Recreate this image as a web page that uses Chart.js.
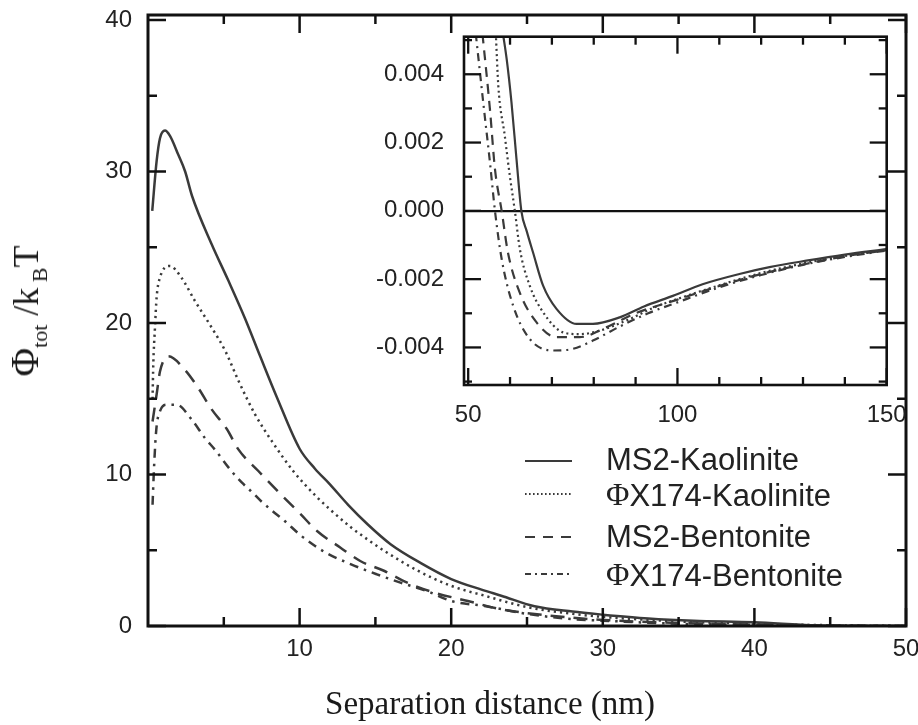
<!DOCTYPE html>
<html>
<head>
<meta charset="utf-8">
<script src="https://cdn.jsdelivr.net/npm/chart.js@4.4.1/dist/chart.umd.min.js"></script>
<style>
  html, body { margin: 0; padding: 0; background: #ffffff; }
  #wrap { position: relative; width: 918px; height: 725px; overflow: hidden; background: #fff; }
  #mainCanvas { position: absolute; left: 0; top: 0; }
  #insetCanvas { position: absolute; left: 370px; top: 20px; }
  .ytitle { position: absolute; left: 28px; top: 311px; transform: translate(-50%, -50%) rotate(-90deg);
            white-space: nowrap; font-family: "Liberation Serif", "DejaVu Serif", serif; font-size: 36px; color: #1a1a1a; line-height: 1; }
  .ytitle .phi { font-size: 39px; }
  .ytitle sub { font-size: 22px; vertical-align: -9px; }
  .xtitle { position: absolute; left: 490px; top: 703px; transform: translate(-50%, -50%);
            white-space: nowrap; font-family: "Liberation Serif", "DejaVu Serif", serif; font-size: 33px; color: #1a1a1a; line-height: 1; }
</style>
</head>
<body>
<div id="wrap">
  <canvas id="mainCanvas" width="918" height="725"></canvas>
  <canvas id="insetCanvas" width="540" height="420"></canvas>
  <div class="ytitle"><span class="phi">Φ</span><sub>tot</sub> /k<sub> B</sub>T</div>
  <div class="xtitle">Separation distance (nm)</div>
</div>
<script>
// ---------------- DATA ----------------
const seriesLabels = ['MS2-Kaolinite', 'ΦX174-Kaolinite', 'MS2-Bentonite', 'ΦX174-Bentonite'];

// Main panel (separation distance in nm, Φtot/kBT)
const ms2KaoX = [0.28, 0.57, 0.79, 1.12, 1.45, 2.0, 2.45, 2.9, 4.2, 5.3, 6.4, 7.4, 8.5, 10.0, 11.0, 12.0, 13.2, 14.5, 16.0, 18.0, 20.0, 22.0, 23.3, 25.5, 28.0, 30.0, 33.0, 36.0, 40.0, 44.0, 47.0, 50.0];
const ms2KaoY = [27.4, 30.7, 32.2, 32.7, 32.35, 31.1, 30.0, 28.4, 25.2, 22.8, 20.3, 17.8, 15.1, 11.7, 10.4, 9.35, 8.0, 6.7, 5.4, 4.15, 3.1, 2.4, 2.0, 1.3, 0.95, 0.75, 0.5, 0.35, 0.25, 0.05, 0.02, 0.0];

const phiKaoX = [0.3, 0.35, 0.46, 0.57, 0.79, 1.45, 2.2, 3.1, 4.2, 5.1, 5.96, 7.06, 8.17, 9.6, 11.15, 12.0, 13.4, 14.5, 15.6, 17.8, 20.0, 22.2, 25.0, 28.0, 30.0, 35.0, 40.0, 45.0, 50.0];
const phiKaoY = [15.0, 17.3, 19.7, 21.7, 23.0, 23.76, 23.0, 21.45, 19.7, 18.15, 16.2, 13.97, 12.2, 10.2, 8.5, 7.7, 6.5, 5.7, 4.95, 3.65, 2.65, 2.0, 1.25, 0.8, 0.6, 0.3, 0.15, 0.05, 0.0];

const ms2BenX = [0.3, 0.57, 0.79, 1.34, 2.44, 3.32, 4.2, 5.2, 5.96, 7.28, 8.7, 10.05, 11.15, 12.7, 14.0, 15.6, 17.1, 18.9, 21.1, 23.3, 25.0, 28.0, 30.0, 35.0, 40.0, 45.0, 50.0];
const ms2BenY = [13.5, 15.3, 16.8, 17.8, 16.9, 15.7, 14.3, 13.0, 11.66, 10.23, 8.75, 7.4, 6.27, 5.17, 4.29, 3.63, 2.86, 2.2, 1.65, 1.1, 0.85, 0.55, 0.4, 0.2, 0.1, 0.03, 0.0];

const phiBenX = [0.3, 0.4, 0.55, 0.8, 1.23, 1.9, 2.9, 3.76, 4.4, 5.5, 6.2, 6.85, 7.5, 8.2, 9.0, 10.05, 11.0, 11.8, 13.4, 15.1, 16.65, 18.4, 20.0, 22.2, 25.0, 28.0, 30.0, 35.0, 40.0, 45.0, 50.0];
const phiBenY = [8.0, 10.5, 13.0, 14.2, 14.6, 14.6, 13.6, 12.4, 11.66, 10.23, 9.46, 8.85, 8.2, 7.6, 6.95, 6.0, 5.3, 4.8, 4.07, 3.41, 2.86, 2.31, 1.65, 1.32, 0.8, 0.45, 0.35, 0.15, 0.08, 0.02, 0.0];

// Inset panel (separation distance 50–150 nm)
const insMs2KaoX = [58.3, 59.2, 60.35, 61.55, 62.7, 64.0, 65.5, 67.9, 71.1, 75.9, 79.8, 86.2, 92.0, 98.9, 106.0, 114.8, 122.0, 130.8, 140.0, 150.0];
const insMs2KaoY = [0.0052, 0.00444, 0.00317, 0.00151, 0.0, -0.0006, -0.00122, -0.00219, -0.00287, -0.00331, -0.00331, -0.00312, -0.0028, -0.00249, -0.00215, -0.00185, -0.00165, -0.00146, -0.00128, -0.00112];

const insPhiKaoX = [56.6, 57.2, 58.75, 59.95, 61.15, 62.35, 64.7, 67.9, 72.7, 76.65, 81.4, 88.0, 95.0, 100.0, 110.0, 120.0, 130.0, 140.0, 150.0];
const insPhiKaoY = [0.0052, 0.00366, 0.00219, 0.00102, 0.0, -0.00112, -0.00219, -0.00297, -0.00356, -0.00361, -0.00351, -0.0032, -0.0028, -0.00258, -0.00218, -0.00182, -0.00154, -0.00132, -0.00114];

const insMs2BenX = [53.4, 55.2, 56.4, 58.0, 59.5, 62.3, 66.3, 71.1, 76.65, 83.0, 90.0, 100.0, 110.0, 120.0, 130.0, 140.0, 150.0];
const insMs2BenY = [0.0052, 0.00297, 0.00122, 0.0, -0.00122, -0.00239, -0.00326, -0.0037, -0.0037, -0.00341, -0.003, -0.0026, -0.0022, -0.00185, -0.00157, -0.00133, -0.00115];

const insPhiBenX = [51.8, 53.6, 55.2, 56.4, 58.0, 60.75, 64.7, 70.3, 75.05, 79.8, 86.0, 93.0, 100.0, 110.0, 120.0, 130.0, 140.0, 150.0];
const insPhiBenY = [0.0052, 0.00317, 0.00142, 0.0, -0.00141, -0.00278, -0.00375, -0.00409, -0.00404, -0.0038, -0.0034, -0.003, -0.00268, -0.00224, -0.00188, -0.00158, -0.00135, -0.00116];

// Tick values
const mainXTickLabels = [10, 20, 30, 40, 50];
const mainYTickLabels = [0, 10, 20, 30, 40];
const mainXMinor = [5, 15, 25, 35, 45];
const mainYMinor = [5, 15, 25, 35];
const insetXTickLabels = [50, 100, 150];
const insetXMinor = [60, 70, 80, 90, 110, 120, 130, 140];
const insetYTickLabels = [-0.004, -0.002, 0.0, 0.002, 0.004];
const insetYMinor = [-0.005, -0.003, -0.001, 0.001, 0.003, 0.005];

// ---------------- STYLE ----------------
const lineColor = '#3a3a3a';
const axisColor = '#111111';
const tickFont = { family: '"Liberation Sans", Arial, sans-serif', size: 24 };
const mainDashes = [[], [2.2, 4], [14, 9], [9, 6, 2.5, 6]];
const insetDashes = [[], [2, 3.2], [10, 7], [8, 5, 2, 5]];
const legendDashes = [[], [1.6, 2.4], [10, 8], [6, 4, 2, 4]];

const pts = (xs, ys) => xs.map((x, i) => ({ x: x, y: ys[i] }));

function makeDatasets(pairs, dashes, width) {
  return pairs.map((p, i) => ({
    label: seriesLabels[i],
    data: pts(p[0], p[1]),
    borderColor: lineColor,
    borderWidth: width,
    borderDash: dashes[i],
    pointRadius: 0,
    fill: false,
    cubicInterpolationMode: 'monotone'
  }));
}

const noXPad = s => { s.paddingLeft = 0; s.paddingRight = 0; };
const noYPad = s => { s.paddingTop = 0; s.paddingBottom = 0; };

// Plugin: closed frame with inward major/minor ticks on all sides
const frameTicks = {
  id: 'frameTicks',
  afterDatasetsDraw(chart, args, o) {
    const { ctx, chartArea: a } = chart;
    const xs = chart.scales.x, ys = chart.scales.y;
    ctx.save();
    ctx.strokeStyle = o.color;
    ctx.lineCap = 'butt';
    ctx.lineWidth = o.tickWidth;
    const drawX = (vals, len) => vals.forEach(v => {
      const px = xs.getPixelForValue(v);
      ctx.beginPath(); ctx.moveTo(px, a.bottom); ctx.lineTo(px, a.bottom - len); ctx.stroke();
      ctx.beginPath(); ctx.moveTo(px, a.top); ctx.lineTo(px, a.top + len); ctx.stroke();
    });
    const drawY = (vals, len) => vals.forEach(v => {
      const py = ys.getPixelForValue(v);
      ctx.beginPath(); ctx.moveTo(a.left, py); ctx.lineTo(a.left + len, py); ctx.stroke();
      ctx.beginPath(); ctx.moveTo(a.right, py); ctx.lineTo(a.right - len, py); ctx.stroke();
    });
    drawX(o.xMajor, o.majorLen); drawX(o.xMinor, o.minorLen);
    drawY(o.yMajor, o.majorLen); drawY(o.yMinor, o.minorLen);
    ctx.lineWidth = o.frameWidth;
    ctx.strokeRect(a.left, a.top, a.right - a.left, a.bottom - a.top);
    ctx.restore();
  }
};

// Plugin: legend drawn inside the main plot
const legendPlugin = {
  id: 'innerLegend',
  afterDraw(chart, args, o) {
    const ctx = chart.ctx;
    chart.data.datasets.forEach((ds, i) => {
      const ty = o.textY[i], ly = o.lineY[i];
      ctx.save();
      ctx.strokeStyle = ds.borderColor;
      ctx.lineWidth = o.lineWidth;
      ctx.setLineDash(o.dashes[i]);
      ctx.beginPath(); ctx.moveTo(o.x0, ly); ctx.lineTo(o.x1, ly); ctx.stroke();
      ctx.setLineDash([]);
      ctx.fillStyle = o.color;
      ctx.textBaseline = 'middle';
      ctx.textAlign = 'left';
      let tx = o.textX;
      let label = ds.label;
      if (label.charAt(0) === 'Φ') {
        ctx.font = o.serifFont;
        ctx.fillText('Φ', tx, ty);
        tx += ctx.measureText('Φ').width;
        label = label.slice(1);
      }
      ctx.font = o.font;
      ctx.fillText(label, tx, ty);
      ctx.restore();
    });
  }
};

// ---------------- MAIN CHART ----------------
new Chart(document.getElementById('mainCanvas'), {
  type: 'line',
  data: {
    datasets: makeDatasets([[ms2KaoX, ms2KaoY], [phiKaoX, phiKaoY], [ms2BenX, ms2BenY], [phiBenX, phiBenY]], mainDashes, 2.5)
  },
  options: {
    responsive: false,
    animation: false,
    devicePixelRatio: 1,
    layout: { padding: { top: 15, right: 12, left: 0, bottom: 0 } },
    plugins: {
      legend: { display: false },
      tooltip: { enabled: false },
      frameTicks: { color: axisColor, tickWidth: 2.5, frameWidth: 3, majorLen: 18, minorLen: 9,
                    xMajor: mainXTickLabels, xMinor: mainXMinor, yMajor: mainYTickLabels, yMinor: mainYMinor },
      innerLegend: { x0: 525, x1: 572, textX: 606, textY: [461, 497, 538, 577], lineY: [461, 494, 537, 574],
                     lineWidth: 2.2, dashes: legendDashes, color: '#222',
                     font: '31px "Liberation Sans", Arial, sans-serif',
                     serifFont: '32px "Liberation Serif", "Times New Roman", serif' }
    },
    scales: {
      x: {
        type: 'linear', min: 0, max: 50,
        grid: { display: false, drawTicks: false },
        border: { display: false },
        ticks: { font: tickFont, color: '#222', padding: 9, autoSkip: false, maxRotation: 0 },
        afterBuildTicks: s => { s.ticks = mainXTickLabels.map(v => ({ value: v })); },
        afterFit: s => { s.height = 99; noXPad(s); }
      },
      y: {
        type: 'linear', min: 0, max: 40.33,
        grid: { display: false, drawTicks: false },
        border: { display: false },
        ticks: { font: tickFont, color: '#222', padding: 16, autoSkip: false },
        afterBuildTicks: s => { s.ticks = mainYTickLabels.map(v => ({ value: v })); },
        afterFit: s => { s.width = 148; noYPad(s); }
      }
    }
  },
  plugins: [frameTicks, legendPlugin]
});

// ---------------- INSET CHART ----------------
new Chart(document.getElementById('insetCanvas'), {
  type: 'line',
  data: {
    datasets: makeDatasets([[insMs2KaoX, insMs2KaoY], [insPhiKaoX, insPhiKaoY], [insMs2BenX, insMs2BenY], [insPhiBenX, insPhiBenY]], insetDashes, 2.2)
  },
  options: {
    responsive: false,
    animation: false,
    devicePixelRatio: 1,
    layout: { padding: { top: 16.7, right: 23.3, left: 0, bottom: 0 } },
    plugins: {
      legend: { display: false },
      tooltip: { enabled: false },
      frameTicks: { color: axisColor, tickWidth: 2.3, frameWidth: 2.6, majorLen: 17, minorLen: 8,
                    xMajor: insetXTickLabels, xMinor: insetXMinor, yMajor: insetYTickLabels, yMinor: insetYMinor }
    },
    scales: {
      x: {
        type: 'linear', min: 49, max: 150,
        grid: { display: false, drawTicks: false },
        border: { display: false },
        ticks: { font: tickFont, color: '#222', padding: 16, autoSkip: false, maxRotation: 0 },
        afterBuildTicks: s => { s.ticks = insetXTickLabels.map(v => ({ value: v })); },
        afterFit: s => { s.height = 55; noXPad(s); }
      },
      y: {
        type: 'linear', min: -0.0051, max: 0.0051,
        grid: {
          display: true, drawTicks: false,
          color: c => (c.tick && c.tick.value === 0 ? '#111' : 'rgba(0,0,0,0)'),
          lineWidth: 2.2
        },
        border: { display: false },
        ticks: { font: tickFont, color: '#222', padding: 20, autoSkip: false,
                 callback: v => Number(v).toFixed(3) },
        afterBuildTicks: s => { s.ticks = insetYTickLabels.map(v => ({ value: v })); },
        afterFit: s => { s.width = 94; noYPad(s); }
      }
    }
  },
  plugins: [frameTicks]
});
</script>
</body>
</html>
